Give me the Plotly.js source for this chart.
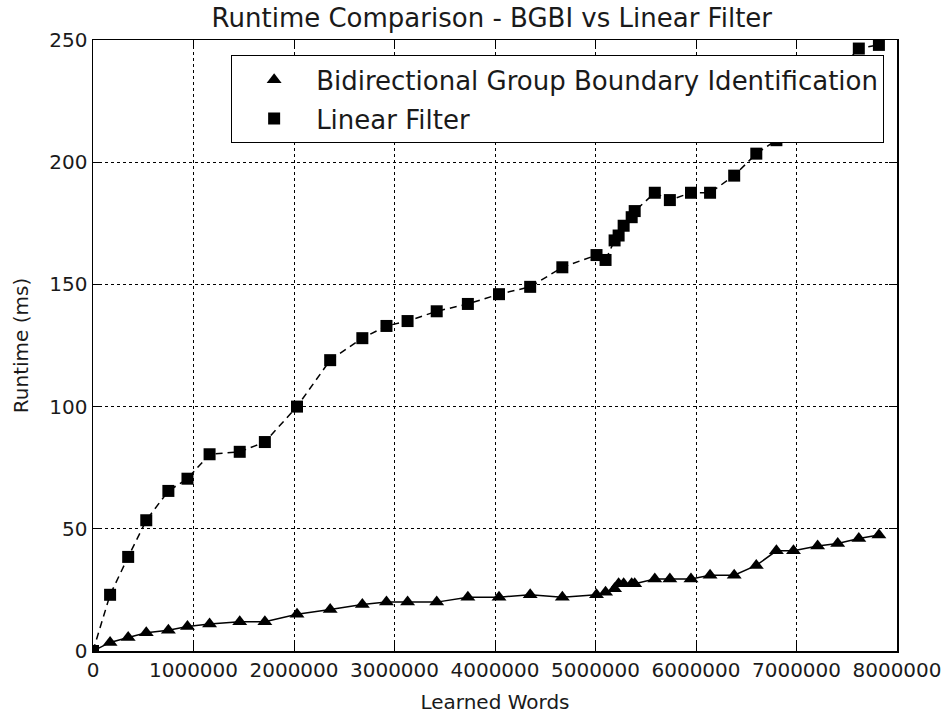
<!DOCTYPE html>
<html>
<head>
<meta charset="utf-8">
<script src="https://cdn.plot.ly/plotly-3.0.1.min.js"></script>
<style>html,body{margin:0;padding:0;background:#fff;}#chart{width:944px;height:714px;}</style>
</head>
<body>
<div id="chart"></div>
<script>
// Learned words (x values)
const learnedWords = [0, 170000, 350000, 530000, 750000, 940000, 1160000, 1460000, 1710000, 2030000,
  2360000, 2680000, 2920000, 3130000, 3420000, 3730000, 4040000, 4350000, 4670000, 5010000,
  5100000, 5190000, 5230000, 5280000, 5360000, 5390000, 5590000, 5740000, 5950000, 6140000,
  6380000, 6600000, 6800000, 6970000, 7210000, 7410000, 7620000, 7820000];

// Bidirectional Group Boundary Identification runtime (ms)
const bgbiRuntime = [0, 3.5, 5.5, 7.5, 8.5, 10, 11, 12, 12, 15,
  17, 19, 20, 20, 20, 22, 22, 23, 22, 23,
  24, 25.5, 27.5, 27.5, 27.5, 27.5, 29.5, 29.5, 29.5, 31,
  31, 35, 41, 41, 43, 44, 46, 47.5];

// Linear Filter runtime (ms); null = hidden behind the legend in the reference
const linearRuntime = [0, 23, 38.5, 53.5, 65.5, 70.5, 80.5, 81.5, 85.5, 100,
  119, 128, 133, 135, 139, 142, 146, 149, 157, 162,
  160, 168, 170, 174, 177.5, 180, 187.5, 184.5, 187.5, 187.5,
  194.5, 203.5, 209, null, null, null, 246.5, 248];

const seriesNames = ["Bidirectional Group Boundary Identification", "Linear Filter"];
const chartTitle = "Runtime Comparison - BGBI vs Linear Filter";
const xTitle = "Learned Words";
const yTitle = "Runtime (ms)";

const FONT = "DejaVu Sans, sans-serif";

const traces = [
  {x: learnedWords, y: bgbiRuntime, mode: "lines", showlegend: false, hoverinfo: "skip",
   line: {color: "black", width: 1.5}},
  {x: learnedWords, y: linearRuntime, mode: "lines", showlegend: false, connectgaps: true, hoverinfo: "skip",
   line: {color: "black", width: 1.5, dash: "7px,5px"}},
  {x: learnedWords, y: bgbiRuntime, mode: "markers", name: seriesNames[0], legendgroup: "a",
   marker: {symbol: "triangle-up", size: 13, color: "black"}},
  {x: learnedWords, y: linearRuntime, mode: "markers", name: seriesNames[1], legendgroup: "b",
   marker: {symbol: "square", size: 12, color: "black"}}
];

const axisCommon = {
  showline: true, linecolor: "black", linewidth: 1.5, mirror: "ticks",
  ticks: "inside", ticklen: 8, tickwidth: 1, tickcolor: "black",
  showgrid: true, gridcolor: "black", gridwidth: 1, griddash: "dot",
  zeroline: false,
  tickfont: {family: FONT, size: 20, color: "#1a1a1a"}
};

const layout = {
  width: 944, height: 714,
  paper_bgcolor: "white", plot_bgcolor: "white",
  margin: {l: 93, r: 47, t: 40, b: 63},
  title: {text: chartTitle, font: {family: FONT, size: 26, color: "#1a1a1a"},
          x: 0.521, xanchor: "center", y: 0.975, yanchor: "middle"},
  xaxis: Object.assign({}, axisCommon, {
    range: [0, 8000000], dtick: 1000000, tick0: 0, tickformat: "d",
    title: {text: xTitle, font: {family: FONT, size: 20, color: "#1a1a1a"}, standoff: 14}
  }),
  yaxis: Object.assign({}, axisCommon, {
    range: [0, 250], dtick: 50, tick0: 0,
    title: {text: yTitle, font: {family: FONT, size: 20, color: "#1a1a1a"}, standoff: 15}
  }),
  legend: {
    x: 0.984, xanchor: "right", y: 0.975, yanchor: "top",
    bgcolor: "white", bordercolor: "black", borderwidth: 1,
    font: {family: FONT, size: 26, color: "#1a1a1a"},
    itemwidth: 74, traceorder: "grouped", tracegroupgap: 2
  },
  showlegend: true
};

Plotly.newPlot("chart", traces, layout, {displayModeBar: false, staticPlot: true});
</script>
</body>
</html>
